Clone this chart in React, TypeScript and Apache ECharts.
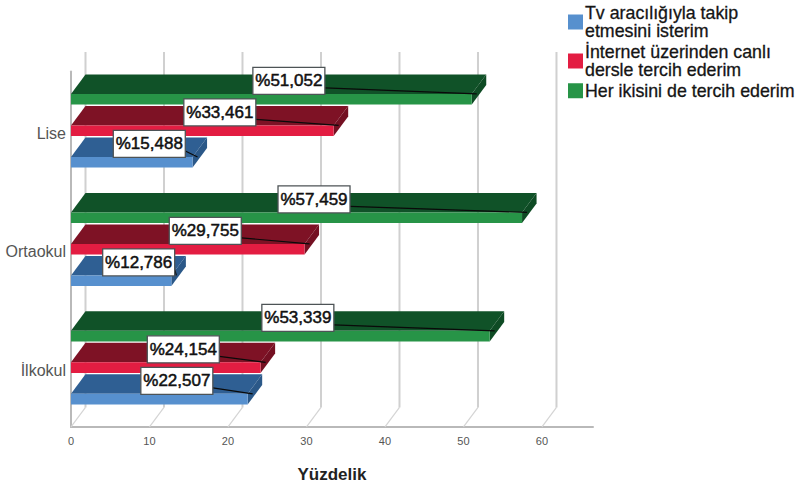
import React, { useEffect, useRef } from "react";
import * as echarts from "echarts";

const categories = ["İlkokul", "Ortaokul", "Lise"];
const tvValues = [22.507, 12.786, 15.488];
const internetValues = [24.154, 29.755, 33.461];
const bothValues = [53.339, 57.459, 51.052];
const gridTicks = [0, 10, 20, 30, 40, 50, 60];

const seriesNames = ["Tv aracılığıyla takip\netmesini isterim", "İnternet üzerinden canlı\ndersle tercih ederim", "Her ikisini de tercih ederim"];
const frontColors = ["#5790ce", "#e31d42", "#279447"];
const topColors = ["#2f5f93", "#7e1225", "#105228"];
const sideColors = ["#2b5888", "#741022", "#0e4b24"];
const valueSets = [tvValues, internetValues, bothValues];
const offsets = [31.5, 0, -31.5];

const DX = 14.5;
const DY = 19.5;
const BAR_H = 10.6;
const FONT = '"Liberation Sans", Arial, sans-serif';

const toData = (vals: number[]) => vals.map((v, i) => [v, i]);
const fmt = (v: number) => "%" + v.toFixed(3).replace(".", ",");

function barSeries(idx: number) {
  return {
    type: "custom",
    name: seriesNames[idx],
    coordinateSystem: "cartesian2d",
    itemStyle: { color: frontColors[idx] },
    encode: { x: 0, y: 1 },
    data: toData(valueSets[idx]),
    z: 3,
    clip: false,
    renderItem: (_: any, api: any) => {
      const end = api.coord([api.value(0), api.value(1)]);
      const start = api.coord([0, api.value(1)]);
      const cy = end[1] + offsets[idx];
      const top = cy - BAR_H / 2;
      const x0 = start[0];
      const x1 = end[0];
      return {
        type: "group",
        children: [
          { type: "polygon", shape: { points: [[x0, top], [x1, top], [x1 + DX, top - DY], [x0 + DX, top - DY]] }, style: { fill: topColors[idx] } },
          { type: "polygon", shape: { points: [[x1, top], [x1 + DX, top - DY], [x1 + DX, top - DY + BAR_H], [x1, top + BAR_H]] }, style: { fill: sideColors[idx] } },
          { type: "rect", shape: { x: x0, y: top, width: x1 - x0, height: BAR_H }, style: { fill: frontColors[idx] } },
        ],
      };
    },
  };
}

function labelSeries(idx: number) {
  return {
    type: "custom",
    coordinateSystem: "cartesian2d",
    encode: { x: 0, y: 1 },
    data: toData(valueSets[idx]),
    z: 5,
    clip: false,
    silent: true,
    renderItem: (_: any, api: any) => {
      const val = api.value(0);
      const end = api.coord([val, api.value(1)]);
      const start = api.coord([0, api.value(1)]);
      const cy = end[1] + offsets[idx];
      const top = cy - BAR_H / 2;
      const cx = (start[0] + end[0]) / 2 + 17.5;
      const lblCy = top - 13;
      return {
        type: "group",
        children: [
          { type: "line", shape: { x1: cx + 36, y1: lblCy + 7, x2: end[0] + 5, y2: top }, style: { stroke: "#0a0a0a", lineWidth: 1.2 } },
          { type: "rect", shape: { x: cx - 36, y: lblCy - 13.5, width: 72, height: 27 }, style: { fill: "#ffffff", stroke: "#4d5356", lineWidth: 1.3 } },
          { type: "text", style: { text: fmt(val), x: cx, y: lblCy, align: "center", verticalAlign: "middle", font: `17px ${FONT}`, fill: "#111111", stroke: "#111111", lineWidth: 0.5 } },
        ],
      };
    },
  };
}

const gridSeries = {
  type: "custom",
  coordinateSystem: "cartesian2d",
  encode: { x: 0, y: 1 },
  data: gridTicks.map((t) => [t, 0]),
  z: 1,
  clip: false,
  silent: true,
  renderItem: (params: any, api: any) => {
    const sys = params.coordSys;
    const x = api.coord([api.value(0), 0])[0];
    const bottom = sys.y + sys.height;
    const st = { stroke: "#d0d0d0", lineWidth: 2, fill: "none" };
    return {
      type: "group",
      children: [
        { type: "line", shape: { x1: x, y1: bottom, x2: x + DX, y2: bottom - DY }, style: { stroke: "#d4d4d4", lineWidth: 1.2 } },
        { type: "line", shape: { x1: x + DX, y1: bottom - DY, x2: x + DX, y2: sys.y - DY }, style: st },
      ],
    };
  },
};

const option = {
  animation: false,
  backgroundColor: "#ffffff",
  textStyle: { fontFamily: FONT },
  legend: {
    orient: "vertical",
    left: 568,
    top: 3.5,
    padding: 0,
    itemWidth: 15,
    itemHeight: 15,
    itemGap: 2,
    icon: "rect",
    selectedMode: false,
    data: seriesNames,
    textStyle: { fontFamily: FONT, fontSize: 17.8, lineHeight: 18.5, color: "#151515", padding: [0, 0, 0, -3], textBorderColor: "#151515", textBorderWidth: 0.3 },
  },
  grid: { left: 71, top: 71.5, width: 522, height: 355.4, containLabel: false, outerBoundsMode: "none" },
  xAxis: {
    type: "value",
    min: 0,
    max: 66.5,
    interval: 10,
    splitLine: { show: false },
    axisTick: { show: false },
    axisLine: { show: true, lineStyle: { color: "#b9b9b9", width: 2 } },
    axisLabel: { color: "#555555", fontSize: 11, margin: 9, showMaxLabel: false, fontFamily: FONT },
    name: "Yüzdelik",
    nameLocation: "middle",
    nameGap: 39,
    nameTextStyle: { fontFamily: FONT, fontWeight: "bold", fontSize: 17, color: "#222222" },
  },
  yAxis: {
    type: "category",
    data: categories,
    axisTick: { show: false },
    axisLine: { show: true, lineStyle: { color: "#b9b9b9", width: 2 } },
    axisLabel: { color: "#555555", fontSize: 16, margin: 5, fontFamily: FONT, verticalAlign: "top", lineHeight: 5 },
  },
  series: [gridSeries, barSeries(0), barSeries(1), barSeries(2), labelSeries(0), labelSeries(1), labelSeries(2)],
};

export default function App() {
  const ref = useRef<HTMLDivElement>(null);
  useEffect(() => {
    const chart = echarts.init(ref.current!, undefined, { renderer: "svg" });
    chart.setOption(option as any);
    return () => chart.dispose();
  }, []);
  return <div ref={ref} style={{ width: 798, height: 485, position: "fixed", left: 0, top: 0 }} />;
}
